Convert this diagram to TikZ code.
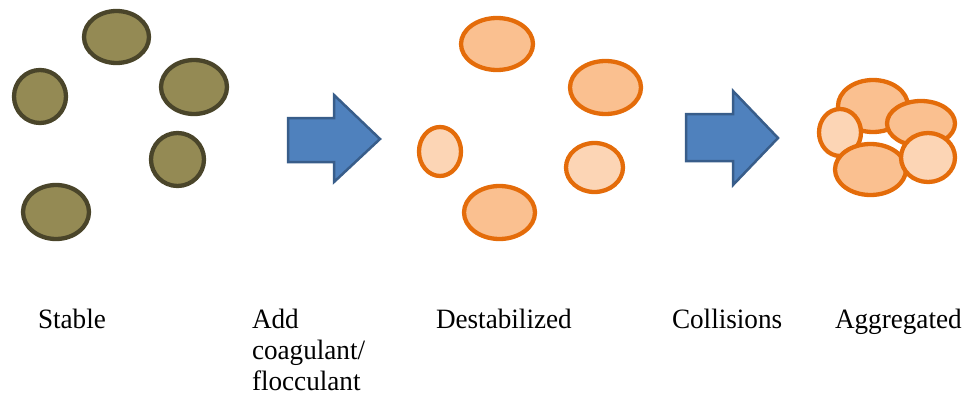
\documentclass[tikz,border=0pt]{standalone}
\usepackage{fontspec}
\setmainfont{Liberation Serif}
\newfontfamily\labelfont{Liberation Serif}
\usetikzlibrary{shapes.geometric}
\definecolor{olivefill}{HTML}{948A54}
\definecolor{olivedraw}{HTML}{4A452A}
\definecolor{orgdraw}{HTML}{E46C0A}
\definecolor{orgfill}{HTML}{FAC090}
\definecolor{orglight}{HTML}{FCD5B5}
\definecolor{bluefill}{HTML}{4F81BD}
\definecolor{bluedraw}{HTML}{385D8A}
\tikzset{
  stablep/.style={ellipse, draw=olivedraw, fill=olivefill, line width=4.3pt, inner sep=0pt},
  destp/.style={ellipse, draw=orgdraw, fill=orgfill, line width=4.3pt, inner sep=0pt},
  destl/.style={destp, fill=orglight},
  bigarrow/.style={draw=bluedraw, fill=bluefill, line width=2.5pt, line join=miter},
  lbl/.style={inner sep=0pt, outer sep=0pt, font=\labelfont\fontsize{28}{31}\selectfont, xscale=0.97, align=left}
}
\begin{document}
\begin{tikzpicture}[x=1pt, y=-1pt]
\useasboundingbox (0,0) rectangle (967,396);
% stable particles
\node[stablep, minimum width=65pt, minimum height=52pt] (s1) at (116.5,37) {};
\node[stablep, minimum width=52pt, minimum height=53pt] (s2) at (40,96.5) {};
\node[stablep, minimum width=66pt, minimum height=54pt] (s3) at (194,87) {};
\node[stablep, minimum width=53pt, minimum height=53pt] (s4) at (177.5,159.5) {};
\node[stablep, minimum width=66pt, minimum height=54pt] (s5) at (56,212) {};
% arrow 1
\draw[bigarrow] (288,118) -- (334,118) -- (334,95) -- (380,139) -- (334,182) -- (334,162) -- (288,162) -- cycle;
% destabilized particles
\node[destp, minimum width=72pt, minimum height=52pt] (d1) at (497,44) {};
\node[destp, minimum width=71pt, minimum height=53pt] (d2) at (605.5,87.5) {};
\node[destl, minimum width=42pt, minimum height=49pt] (d3) at (440,151.5) {};
\node[destl, minimum width=57pt, minimum height=49pt] (d4) at (594.5,167.5) {};
\node[destp, minimum width=71pt, minimum height=53pt] (d5) at (499.5,212.5) {};
% arrow 2
\draw[bigarrow] (686,114) -- (733,114) -- (733,91) -- (778,138) -- (733,185) -- (733,161) -- (686,161) -- cycle;
% aggregated cluster
\node[destp, minimum width=70pt, minimum height=52pt] (a1) at (873,106) {};
\node[destl, minimum width=42pt, minimum height=47pt] (a2) at (840,132.5) {};
\node[destp, minimum width=68pt, minimum height=45pt] (a3) at (921,123.5) {};
\node[destp, minimum width=71pt, minimum height=51pt] (a4) at (870.5,169.5) {};
\node[destl, minimum width=54pt, minimum height=49pt] (a5) at (928,157.5) {};
% labels
\node[lbl, anchor=base west] (t1) at (38,328) {Stable};
\node[lbl, anchor=north west] (t2) at (252,309) {Add\\coagulant/\\flocculant};
\node[lbl, anchor=base west] (t3) at (436,328) {Destabilized};
\node[lbl, anchor=base west] (t4) at (672,328) {Collisions};
\node[lbl, anchor=base west] (t5) at (835,328) {Aggregated};
\end{tikzpicture}
\end{document}
